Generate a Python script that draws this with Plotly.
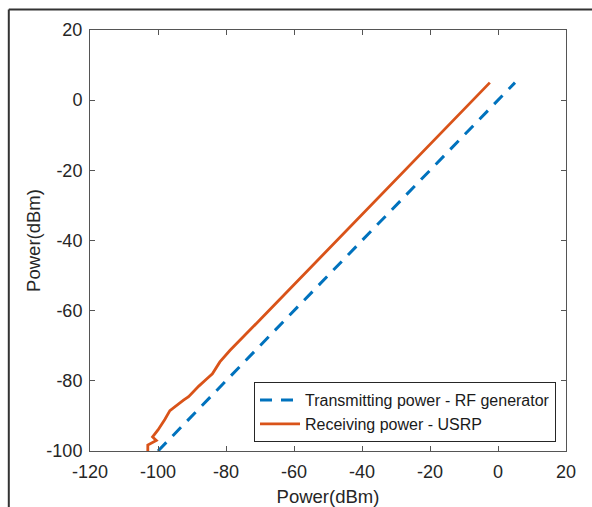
import plotly.graph_objects as go

# Data
tx_x = [-100, 5]
tx_y = [-100, 5]

rx_x = [-103.0, -103.0, -100.5, -101.6, -100.0, -99.3, -98.0, -96.5, -94.5, -93.5,
        -92.5, -91.0, -89.6, -88.0, -85.7, -84.0, -81.8, -78.8, -70.0, -60.0,
        -50.0, -40.0, -30.0, -20.0, -10.0, -2.4]
rx_y = [-100.0, -98.3, -97.0, -96.0, -94.0, -93.0, -91.0, -88.5, -87.0, -86.0,
        -85.5, -84.5, -83.0, -81.5, -79.5, -78.0, -74.6, -71.3, -62.6, -52.6,
        -42.6, -32.6, -22.6, -12.6, -2.6, 5.0]

x_ticks = [-120, -100, -80, -60, -40, -20, 0, 20]
x_tick_text = ["-120", "-100", "-80", "-60", "-40", "-20", "0", "20"]
y_ticks = [-100, -80, -60, -40, -20, 0, 20]
y_tick_text = ["-100", "-80", "-60", "-40", "-20", "0", "20"]

names = ["Transmitting power - RF generator", "Receiving power - USRP"]

FONT = "Liberation Sans, Arial"

fig = go.Figure()
fig.add_trace(go.Scatter(x=tx_x, y=tx_y, mode="lines", name=names[0],
                         line=dict(color="#0072BD", width=3, dash="12px,9px")))
fig.add_trace(go.Scatter(x=rx_x, y=rx_y, mode="lines", name=names[1],
                         line=dict(color="#D95319", width=2.8)))

axis_common = dict(showgrid=False, zeroline=False, showline=True, linecolor="#555555",
                   linewidth=1, mirror="ticks", ticks="inside", ticklen=5,
                   tickcolor="#555555", tickfont=dict(family=FONT, size=18, color="#262626"))

fig.update_xaxes(range=[-120, 20], tickvals=x_ticks, ticktext=x_tick_text,
                 ticklabelstandoff=4,
                 title=dict(text="Power(dBm)", font=dict(family=FONT, size=18.5, color="#262626"), standoff=9),
                 **axis_common)
fig.update_yaxes(range=[-100, 20], tickvals=y_ticks, ticktext=y_tick_text,
                 ticklabelstandoff=3,
                 title=dict(text="Power(dBm)", font=dict(family=FONT, size=18.5, color="#262626"), standoff=0),
                 **axis_common)

# outer frame: left and top edges
fx0 = (8.8 - 90) / 476
fy1 = (451 - 9.5) / 421
fig.add_shape(type="line", xref="paper", yref="paper", x0=fx0, x1=fx0, y0=-0.5, y1=fy1,
              line=dict(color="#333333", width=2))
fig.add_shape(type="line", xref="paper", yref="paper", x0=fx0, x1=1.2, y0=fy1, y1=fy1,
              line=dict(color="#333333", width=2))

fig.update_layout(
    width=592, height=507,
    margin=dict(l=90, r=26, t=30, b=56, autoexpand=False),
    paper_bgcolor="white", plot_bgcolor="white",
    showlegend=True,
    legend=dict(x=0.979, y=0.021, xanchor="right", yanchor="bottom",
                bgcolor="white", bordercolor="#262626", borderwidth=1,
                font=dict(family=FONT, size=16, color="#1a1a1a"),
                tracegroupgap=0, itemwidth=40),
    font=dict(family=FONT),
)

fig.write_html("out.html", config={"displayModeBar": False},
               post_script="document.body.style.margin='0';document.body.style.overflow='hidden';")
